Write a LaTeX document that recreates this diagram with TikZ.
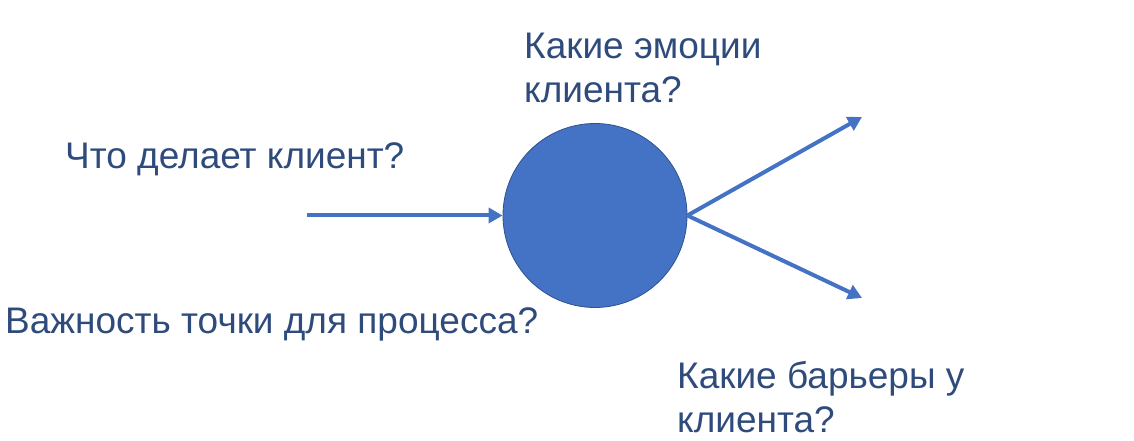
\documentclass[tikz,border=0pt]{standalone}
\usepackage{fontspec}
\setmainfont{Liberation Sans}
\usetikzlibrary{arrows.meta}
\definecolor{fillblue}{HTML}{4472C4}
\definecolor{edgeblue}{HTML}{2F528F}
\definecolor{textblue}{HTML}{2F4B7C}
\begin{document}
\begin{tikzpicture}[x=1pt,y=1pt,line join=round,
    label/.style={anchor=base west,inner sep=0pt,align=left,text=textblue,font=\fontsize{37}{44}\selectfont},
    flow/.style={draw=fillblue,line width=4pt,-{Triangle[length=14pt,width=15pt]}}]
	\useasboundingbox (0,0) rectangle (1134,441);
	\def\cx{595} \def\cy{225.5} % centre of the point
	\node[circle,fill=fillblue,draw=edgeblue,line width=0.8pt,minimum size=184pt,inner sep=0pt] (pt) at (\cx,\cy) {};
	\coordinate (in) at (307,\cy);
	\coordinate (up) at (862,324);
	\coordinate (down) at (862,143);
	\draw[flow] (in)--(pt.west);
	\draw[flow] (pt.east)--(up);
	\draw[flow] (pt.east)--(down);
	\node[label] (doing) at (65,272) {Что делает клиент?};
	\node[label] (emotions) at (524,338) {Какие эмоции\\клиента?};
	\node[label] (weight) at (5,107) {Важность точки для процесса?};
	\node[label] (barriers) at (677,8) {Какие барьеры у\\клиента?};
\end{tikzpicture}
\end{document}
